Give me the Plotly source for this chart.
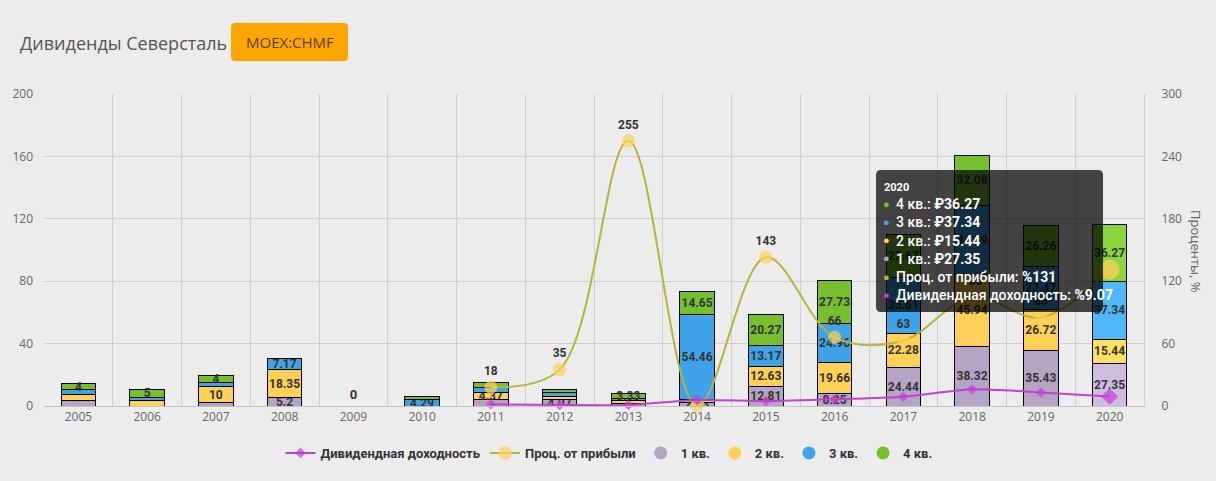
import plotly.graph_objects as go

# ---------------- data ----------------
years = list(range(2005, 2021))
q1 = [3.6, 0, 2.3, 5.2, 0, 0, 4.3, 4.07, 1.5, 2.43, 12.81, 8.25, 24.44, 38.32, 35.43, 27.35]
q2 = [3.6, 3.6, 10, 18.35, 0, 0, 4.37, 2.3, 1.9, 1.9, 12.63, 19.66, 22.28, 45.94, 26.72, 15.44]
q3 = [3.2, 2.0, 3.0, 7.17, 0, 4.29, 3.2, 2.3, 1.4, 54.46, 13.17, 24.96, 35.61, 44.39, 27.47, 37.34]
q4 = [4, 5, 4, 0, 0, 2.1, 3.4, 2.0, 3.33, 14.65, 20.27, 27.73, 27.67, 32.08, 26.26, 36.27]

# which segment labels are visible in the reference
q1_show = [0, 0, 0, 1, 0, 0, 0, 1, 0, 1, 1, 1, 1, 1, 1, 1]
q2_show = [0, 0, 1, 1, 0, 0, 1, 0, 0, 0, 1, 1, 1, 1, 1, 1]
q3_show = [0, 0, 0, 1, 0, 1, 0, 0, 0, 1, 1, 1, 1, 1, 1, 1]
q4_show = [1, 1, 1, 0, 0, 0, 0, 0, 1, 1, 1, 1, 1, 1, 1, 1]

payout = [None] * 6 + [18, 35, 255, 0, 143, 66, 63, 105, 85, 131]      # Проц. от прибыли, %
payout_show = [0] * 6 + [1, 1, 1, 0, 1, 1, 1, 1, 1, 0]
dy = [None] * 6 + [1.6, 1.0, 1.0, 5.8, 4.8, 6.4, 8.9, 16.0, 13.1, 9.07]  # Дивидендная доходность, %

series_names = ["1 кв.", "2 кв.", "3 кв.", "4 кв."]
tooltip_year = 2020

# ---------------- style ----------------
BG = "#ececec"
C_Q = ["#b4a5c4", "#fdd057", "#3ea3e9", "#76c02e"]
C_Q_HOVER = ["#cfbde0", "#ffe060", "#4fb8fb", "#8ad63c"]
C_PAYOUT_LINE = "#b7b43c"
C_PAYOUT_MARK = "#ffd25a"
C_DY = "#c43fd4"
FONT = "Roboto"

# plot area in pixels
L, R, T, B = 44, 1144, 94, 406


def fx(px):
    return (px - L) / (R - L)


def fy(py):
    return (B - py) / (B - T)


def fmt(v):
    return f"{v:g}"


fig = go.Figure()

hover_idx = years.index(tooltip_year)
for k, (vals, show) in enumerate(zip([q1, q2, q3, q4], [q1_show, q2_show, q3_show, q4_show])):
    cols = [C_Q_HOVER[k] if i == hover_idx else C_Q[k] for i in range(len(years))]
    fig.add_trace(go.Bar(
        x=years, y=vals, width=0.5,
        marker=dict(color=cols, line=dict(color="#000", width=1)),
        text=[fmt(v) if s else "" for v, s in zip(vals, show)],
        textposition="inside", insidetextanchor="middle", textangle=0,
        constraintext="none",
        textfont=dict(family=FONT, size=12, color="#333", weight="bold"),
        showlegend=False, hoverinfo="skip",
    ))

# zero-total label ("0" in 2009)
totals = [a + b + c + d for a, b, c, d in zip(q1, q2, q3, q4)]
fig.add_trace(go.Scatter(
    x=[y for y, t in zip(years, totals) if t == 0],
    y=[0 for t in totals if t == 0],
    mode="markers+text", text=["0" for t in totals if t == 0],
    marker=dict(size=4, color="rgba(0,0,0,0)"),
    textposition="top center",
    textfont=dict(family=FONT, size=13, color="#333", weight="bold"),
    showlegend=False, hoverinfo="skip",
))

# payout line
psizes = [13] * len(years)
psizes[hover_idx] = 20
fig.add_trace(go.Scatter(
    x=years, y=payout, yaxis="y2", name="Проц. от прибыли",
    mode="lines+markers",
    line=dict(color=C_PAYOUT_LINE, width=2, shape="spline", smoothing=1),
    marker=dict(color=C_PAYOUT_MARK, size=psizes, line=dict(width=0)),
    cliponaxis=False, legendrank=2, hoverinfo="skip",
))
fig.add_trace(go.Scatter(
    x=years, y=payout, yaxis="y2",
    mode="markers+text",
    text=[fmt(v) if (v is not None and s) else "" for v, s in zip(payout, payout_show)],
    textposition="top center",
    marker=dict(size=13, color="rgba(0,0,0,0)"),
    textfont=dict(family=FONT, size=12, color="#333", weight="bold"),
    cliponaxis=False, showlegend=False, hoverinfo="skip",
))

# dividend yield line
dsizes = [8] * len(years)
dsizes[hover_idx] = 13
fig.add_trace(go.Scatter(
    x=years, y=dy, yaxis="y2", name="Дивидендная доходность",
    mode="lines+markers",
    line=dict(color=C_DY, width=2, shape="spline", smoothing=0.6),
    marker=dict(color=C_DY, size=dsizes, symbol="diamond", line=dict(width=0)),
    cliponaxis=False, legendrank=1, hoverinfo="skip",
))

# legend entries for quarter series (circle symbols)
for k, name in enumerate(series_names):
    fig.add_trace(go.Scatter(
        x=[None], y=[None], mode="markers", name=name,
        marker=dict(color=C_Q[k], size=13), legendrank=3 + k, hoverinfo="skip",
    ))

# ---------------- layout ----------------
fig.update_layout(
    width=1216, height=481,
    margin=dict(l=L, r=1216 - R, t=T, b=481 - B, autoexpand=False),
    paper_bgcolor=BG, plot_bgcolor=BG,
    barmode="stack",
    uniformtext=dict(minsize=12, mode="show"),
    font=dict(family="Open Sans", color="#666"),
    showlegend=True,
    legend=dict(
        orientation="h", x=fx(609), xanchor="center", y=fy(453), yanchor="middle",
        font=dict(family=FONT, size=13, color="#333", weight="bold"),
        bgcolor="rgba(0,0,0,0)", traceorder="normal", itemwidth=30,
    ),
    xaxis=dict(
        range=[2004.5, 2020.5], tickmode="array", tickvals=years,
        ticktext=[str(y) for y in years], showgrid=False, zeroline=False,
        showline=True, linecolor="#c4c4c4", ticks="",
        tickfont=dict(family="Open Sans", size=12, color="#666"),
        minor=dict(tick0=2004.5, dtick=1, showgrid=True, gridcolor="#cfcfcf", gridwidth=1),
    ),
    yaxis=dict(
        range=[0, 200], dtick=40, showgrid=True, gridcolor="#cfcfcf", zeroline=False,
        tickfont=dict(family="Open Sans", size=12, color="#666"), ticklabelstandoff=10,
        showline=False,
    ),
    yaxis2=dict(
        range=[0, 300], dtick=60, overlaying="y", side="right", showgrid=False,
        zeroline=False, showline=True, linecolor="#cfcfcf",
        tickfont=dict(family="Open Sans", size=12, color="#666"), ticklabelstandoff=14,
    ),
)


def rounded_path(x0, y0, x1, y1, r):
    # pixel coords -> paper path with rounded corners
    pts = [
        ("M", fx(x0 + r), fy(y0)),
        ("L", fx(x1 - r), fy(y0)),
        ("Q", fx(x1), fy(y0), fx(x1), fy(y0 + r)),
        ("L", fx(x1), fy(y1 - r)),
        ("Q", fx(x1), fy(y1), fx(x1 - r), fy(y1)),
        ("L", fx(x0 + r), fy(y1)),
        ("Q", fx(x0), fy(y1), fx(x0), fy(y1 - r)),
        ("L", fx(x0), fy(y0 + r)),
        ("Q", fx(x0), fy(y0), fx(x0 + r), fy(y0)),
    ]
    s = ""
    for p in pts:
        s += p[0] + ",".join(f"{v:.5f}" for v in p[1:]) + " "
    return s + "Z"


# title + badge
fig.add_annotation(xref="paper", yref="paper", x=fx(18), y=fy(43), xanchor="left", yanchor="middle",
                   text="Дивиденды Северсталь", showarrow=False,
                   font=dict(family="Open Sans", size=18, color="#555"))
fig.add_shape(type="path", xref="paper", yref="paper", path=rounded_path(231, 23, 348, 61, 4),
              fillcolor="#ffa500", line=dict(width=0), layer="above")
fig.add_annotation(xref="paper", yref="paper", x=fx(289.5), y=fy(42), xanchor="center", yanchor="middle",
                   text="MOEX:CHMF", showarrow=False,
                   font=dict(family="Open Sans", size=15, color="#5a3e00"))

# right axis title
fig.add_annotation(xref="paper", yref="paper", x=fx(1196), y=fy(251), xanchor="center", yanchor="middle",
                   text="Проценты, %", textangle=90, showarrow=False,
                   font=dict(family="Open Sans", size=13, color="#666"))

# tooltip (hover state for 2020)
fig.add_shape(type="path", xref="paper", yref="paper", path=rounded_path(876, 170, 1103, 312, 5),
              fillcolor="rgba(0,0,0,0.72)", line=dict(width=0), layer="above")
i = hover_idx
tip_rows = [
    (C_Q[3], f"4 кв.: <b>₽{fmt(q4[i])}</b>"),
    (C_Q[2], f"3 кв.: <b>₽{fmt(q3[i])}</b>"),
    (C_Q[1], f"2 кв.: <b>₽{fmt(q2[i])}</b>"),
    (C_Q[0], f"1 кв.: <b>₽{fmt(q1[i])}</b>"),
    (C_PAYOUT_LINE, f"Проц. от прибыли: <b>%{fmt(payout[i])}</b>"),
    (C_DY, f"Дивидендная доходность: <b>%{fmt(dy[i])}</b>"),
]
fig.add_annotation(xref="paper", yref="paper", x=fx(882), y=fy(187), xanchor="left", yanchor="middle",
                   text=f"<b>{years[i]}</b>", showarrow=False,
                   font=dict(family=FONT, size=11, color="#fff"))
row_y = [204, 222, 240.5, 258.5, 277, 295]
for (col, txt), yy in zip(tip_rows, row_y):
    fig.add_annotation(xref="paper", yref="paper", x=fx(881), y=fy(yy), xanchor="left", yanchor="middle",
                       text="●", showarrow=False, font=dict(family=FONT, size=11, color=col))
    fig.add_annotation(xref="paper", yref="paper", x=fx(894), y=fy(yy), xanchor="left", yanchor="middle",
                       text=txt, showarrow=False,
                       font=dict(family=FONT, size=14, color="#fff", weight=500))

fig.write_html("out.html", config={"displayModeBar": False},
               post_script="document.body.style.margin='0';")
